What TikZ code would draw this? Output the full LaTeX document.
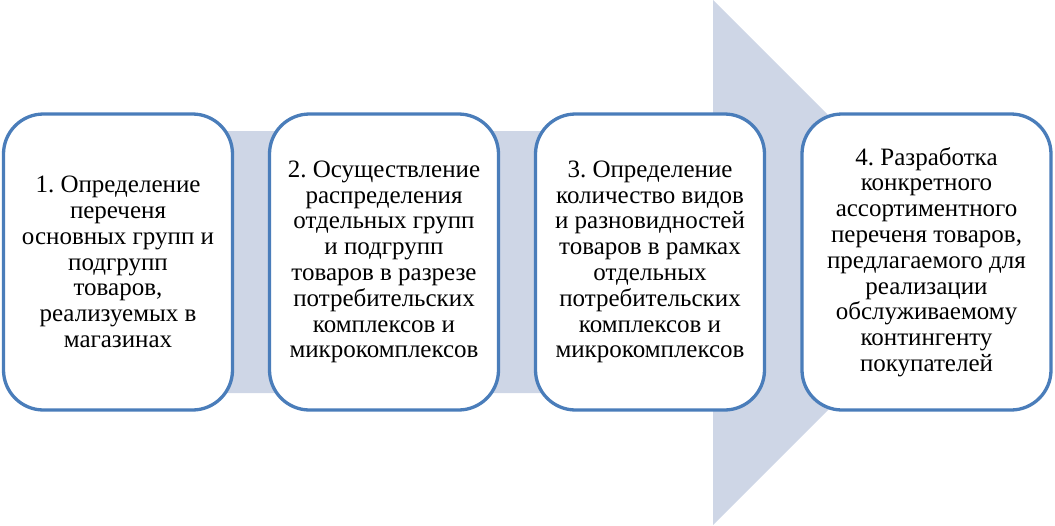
\documentclass[tikz,border=0pt]{standalone}
\usepackage{fontspec}
\setmainfont{Liberation Serif}
\frenchspacing
\definecolor{arrowfill}{RGB}{206,214,230}
\definecolor{boxline}{RGB}{74,125,186}
\begin{document}
\begin{tikzpicture}[x=1pt,y=-1pt,
  stepbox/.style={draw=boxline, line width=3.3pt, fill=white, rounded corners=40pt,
    minimum width=229pt, minimum height=296pt, inner sep=0pt,
    align=center,
    font=\fontsize{25pt}{25.8pt}\selectfont}]
\useasboundingbox (0,0) rectangle (1055,525);
% big arrow
\fill[arrowfill] (20,131) -- (713,131) -- (713,0) -- (975.5,262.5) -- (713,525) -- (713,393) -- (20,393) -- cycle;
\node[stepbox] (b1) at (118,262) {1. Определение\\переченя\\основных групп и\\подгрупп\\товаров,\\реализуемых в\\магазинах};
\node[stepbox] (b2) at (384,262) {2. Осуществление\\распределения\\отдельных групп\\и подгрупп\\товаров в разрезе\\потребительских\\комплексов и\\микрокомплексов};
\node[stepbox] (b3) at (650,262) {3. Определение\\количество видов\\и разновидностей\\товаров в рамках\\отдельных\\потребительских\\комплексов и\\микрокомплексов};
\node[stepbox, minimum width=249pt] (b4) at (926.5,262) {4. Разработка\\конкретного\\ассортиментного\\переченя товаров,\\предлагаемого для\\реализации\\обслуживаемому\\контингенту\\покупателей};
\end{tikzpicture}
\end{document}
